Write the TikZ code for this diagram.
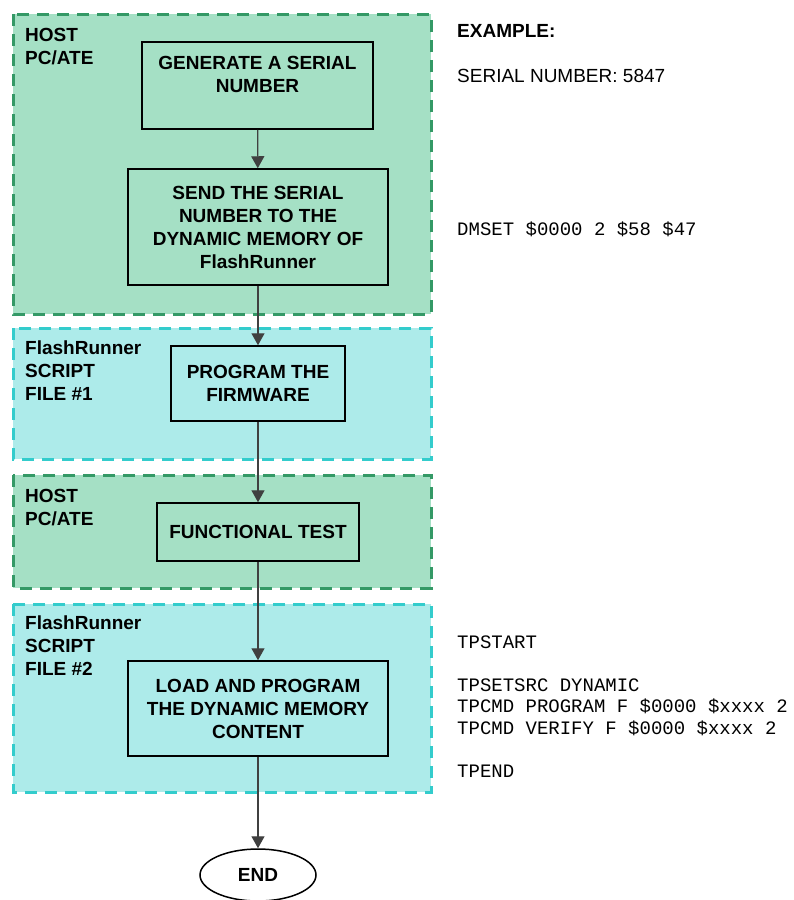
\documentclass[tikz,border=0pt]{standalone}
\usepackage{fontspec}
\setmainfont{Liberation Sans}
\setmonofont{Liberation Mono}
\usetikzlibrary{arrows.meta,shapes.geometric,positioning}
\definecolor{hostfill}{RGB}{165,224,197}
\definecolor{hostline}{RGB}{52,153,102}
\definecolor{scriptfill}{RGB}{173,235,234}
\definecolor{scriptline}{RGB}{51,204,204}

\begin{document}
\begin{tikzpicture}[x=1pt,y=-1pt]
\tikzstyle{every node}=[font=\fontsize{19}{23}\selectfont, inner sep=0pt]
\tikzstyle{hostzone}=[fill=hostfill, draw=hostline, line width=3pt, dash pattern=on 12pt off 8pt]
\tikzstyle{scriptzone}=[fill=scriptfill, draw=scriptline, line width=3pt, dash pattern=on 12pt off 8pt]
\tikzstyle{stepbox}=[draw, line width=1.5pt, align=center, font=\fontsize{19}{23}\selectfont\bfseries]
\tikzstyle{zonelabel}=[anchor=north west, align=left, font=\fontsize{19}{23}\selectfont\bfseries]
\tikzstyle{flowarrow}=[draw=black!75, line width=1.3pt, -{Triangle[length=12pt,width=13pt]}]

\useasboundingbox (0,0) rectangle (793,900);

% zones
\draw[hostzone] (13,14) rectangle (431,314);
\draw[scriptzone] (13,328) rectangle (431,459);
\draw[hostzone] (13,475) rectangle (431,588);
\draw[scriptzone] (13,604) rectangle (431,792);

\node[zonelabel] (host1) at (25,28) {HOST\\PC/ATE};
\node[zonelabel] (file1) at (25,341) {FlashRunner\\SCRIPT\\FILE \#1};
\node[zonelabel] (host2) at (25,489) {HOST\\PC/ATE};
\node[zonelabel] (file2) at (25,616) {FlashRunner\\SCRIPT\\FILE \#2};

% steps
\node[stepbox, minimum width=231pt, minimum height=87pt] (gen) at (257.5,85.5) {GENERATE A SERIAL\\NUMBER\\\mbox{}};
\node[stepbox, minimum width=260pt, minimum height=116pt] (send) at (258,227) {SEND THE SERIAL\\NUMBER TO THE\\DYNAMIC MEMORY OF\\FlashRunner};
\node[stepbox, minimum width=174pt, minimum height=75pt] (prog) at (258,383.5) {PROGRAM THE\\FIRMWARE};
\node[stepbox, minimum width=202pt, minimum height=58pt] (test) at (258,532) {FUNCTIONAL TEST};
\node[stepbox, minimum width=260pt, minimum height=95pt] (load) at (258,708.5) {LOAD AND PROGRAM\\THE DYNAMIC MEMORY\\CONTENT};
\node[draw, ellipse, fill=white, line width=1.5pt, minimum width=116pt, minimum height=52pt, font=\fontsize{19}{23}\selectfont\bfseries] (end) at (258,875) {END};

% example text
\node[anchor=base west, font=\fontsize{19}{23}\selectfont\bfseries] (extitle) at (457,37) {EXAMPLE:};
\node[anchor=base west] (serial) at (457,82) {SERIAL NUMBER: 5847};
\node[anchor=base west, font=\fontsize{19}{21.5}\selectfont\ttfamily] (dmset) at (457,235) {DMSET \$0000 2 \$58 \$47};
\node[anchor=base west, align=left, font=\fontsize{19}{21.5}\selectfont\ttfamily] (script2) at (457,777) {TPSTART\\\mbox{}\\TPSETSRC DYNAMIC\\TPCMD PROGRAM F \$0000 \$xxxx 2\\TPCMD VERIFY F \$0000 \$xxxx 2\\\mbox{}\\TPEND};

% flow
\draw[flowarrow] (gen) -- (send);
\draw[flowarrow] (send) -- (prog);
\draw[flowarrow] (prog) -- (test);
\draw[flowarrow] (test) -- (load);
\draw[flowarrow] (load) -- (end);

\end{tikzpicture}
\end{document}
